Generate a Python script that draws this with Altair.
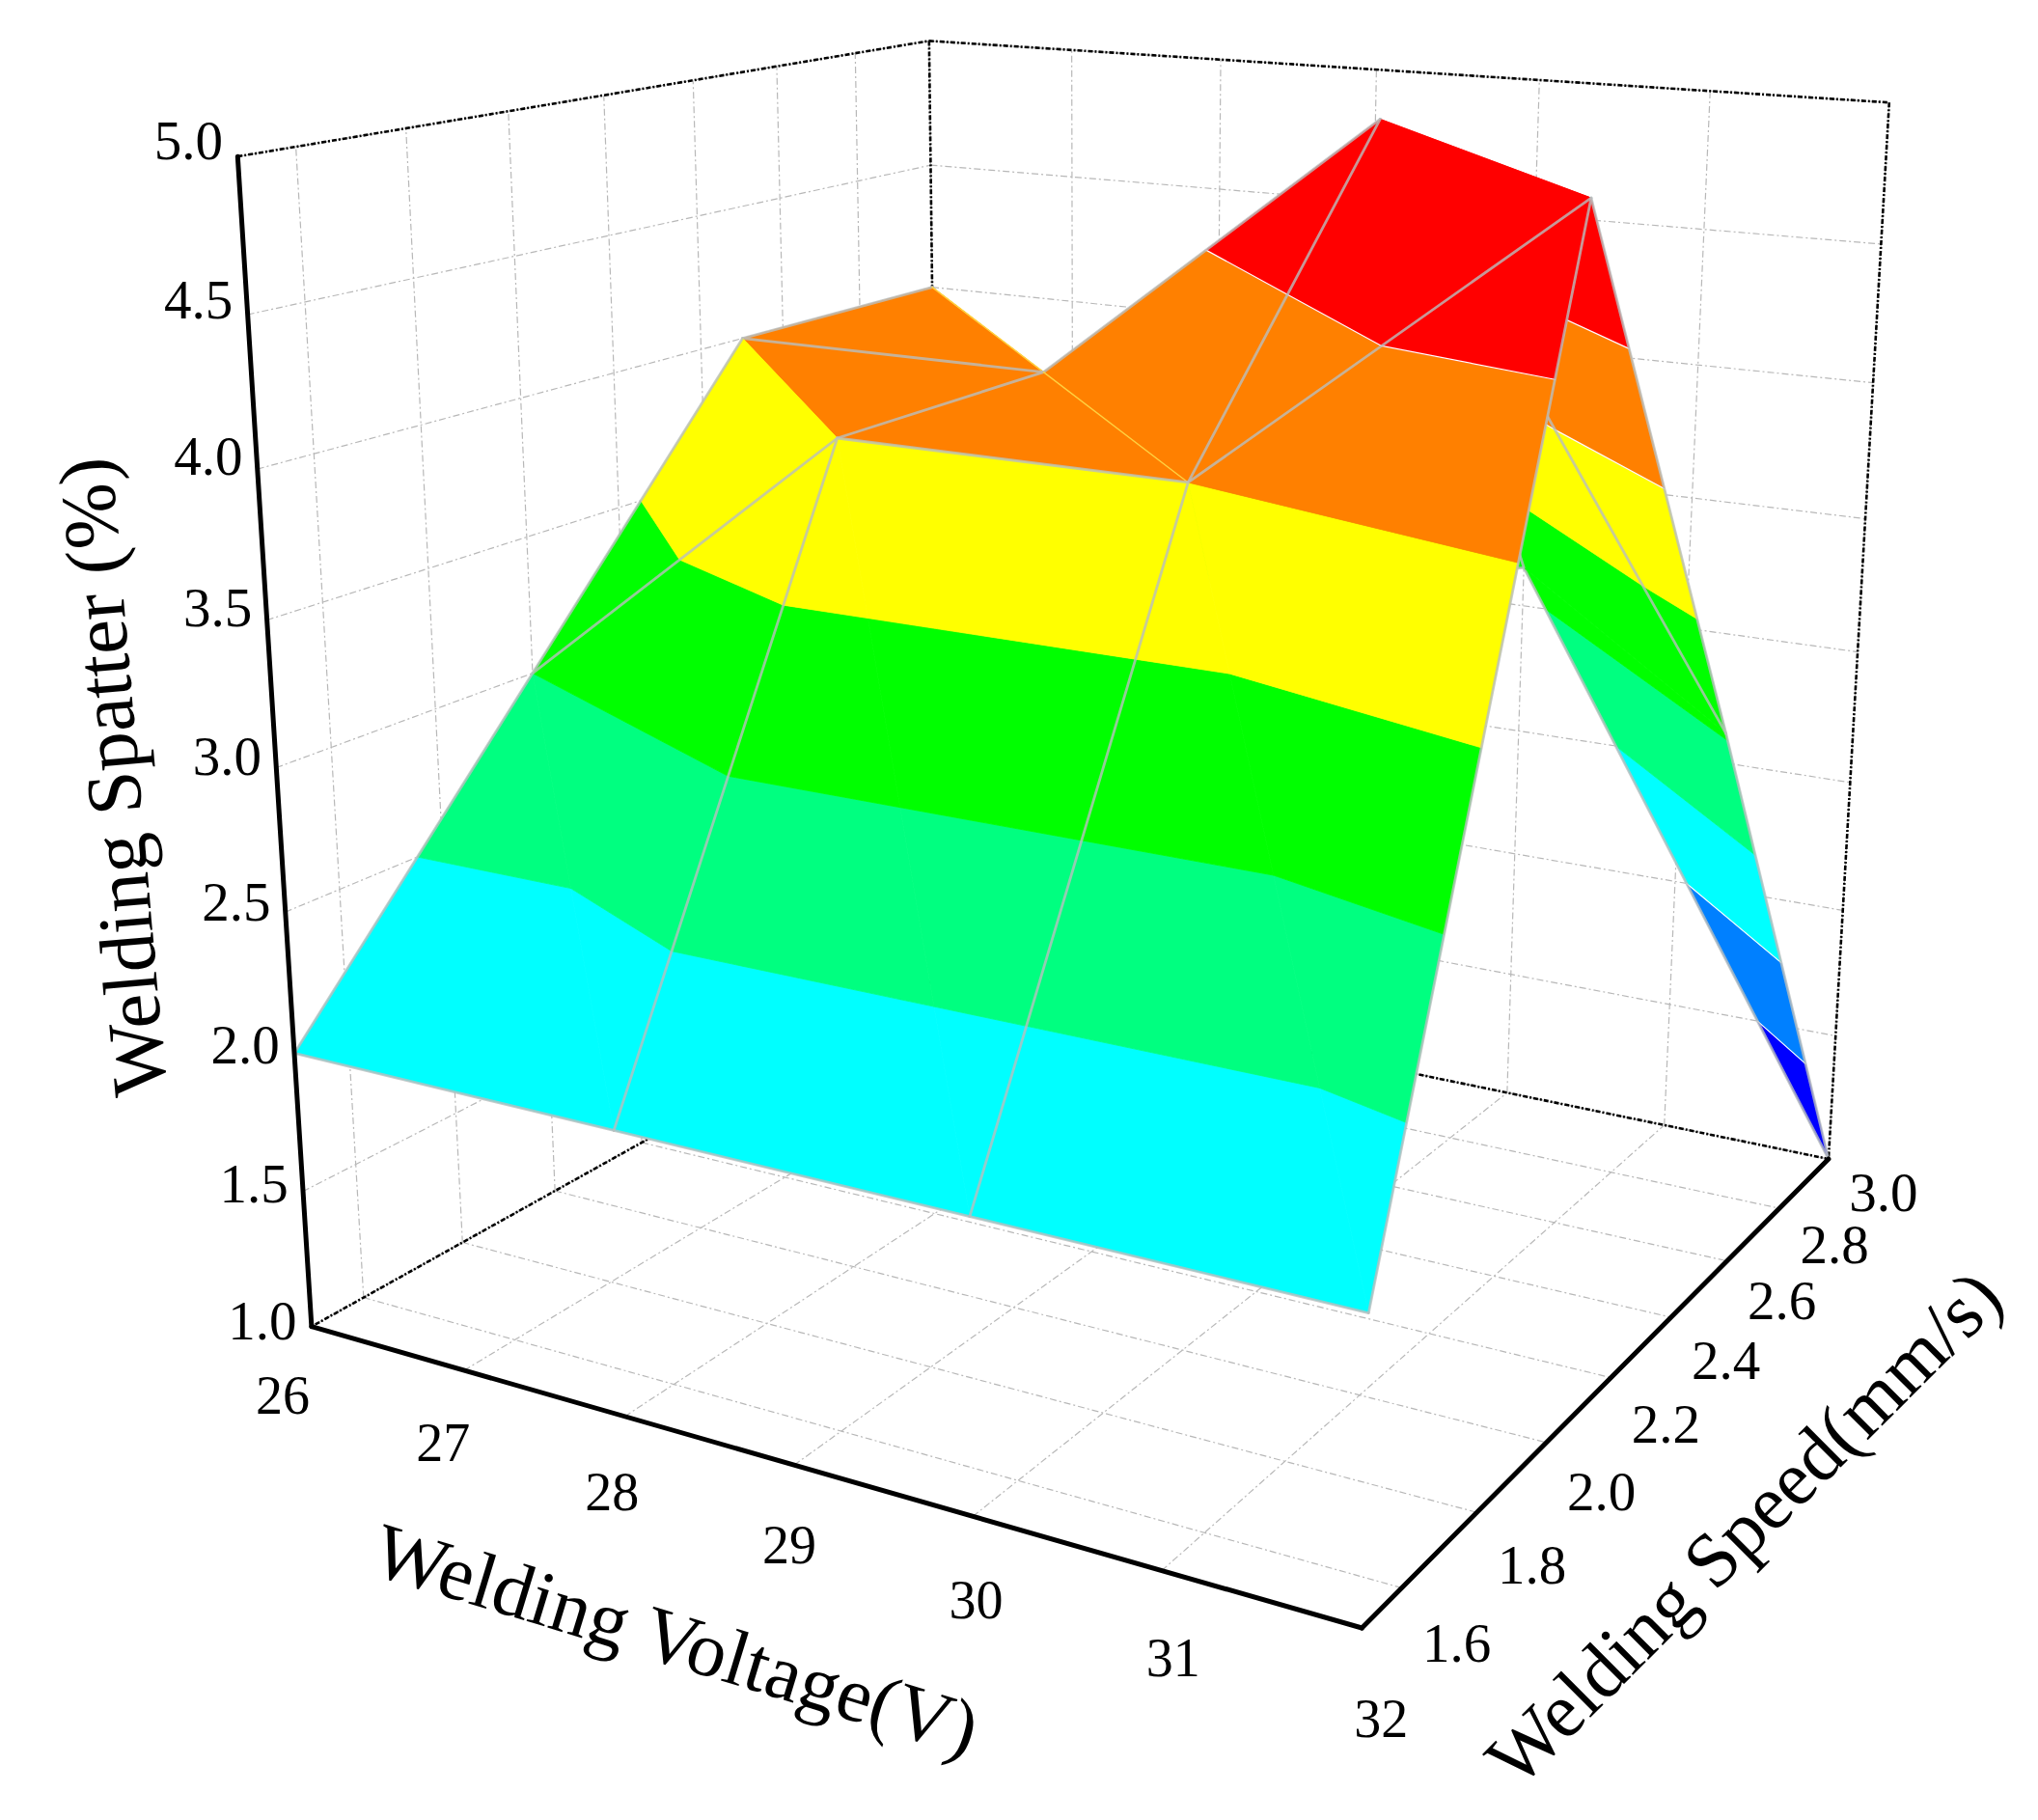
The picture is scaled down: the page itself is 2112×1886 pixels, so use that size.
import altair as alt
import numpy as np
import pandas as pd

# --- data -----------------------------------------------------------------
voltage = [26, 28, 30, 32]
speed = [1.5, 2.0, 2.5, 3.0]
spatter = [
    [2.0, 2.0, 2.0, 2.0],
    [3.0, 4.0, 4.0, 5.0],
    [4.0, 4.0, 5.0, 3.03],
    [4.0, 2.9, 3.15, 1.0],
]
levels = [1.0, 1.5, 2.0, 2.5, 3.0, 3.5, 4.0, 4.5, 5.0]
band_colors = ["#0000ff", "#0080ff", "#00ffff", "#00ff80", "#00ff00", "#ffff00", "#ff8000", "#ff0000"]
white_levels = [1.5, 2.0, 4.0, 4.5]
v_ticks = [26, 27, 28, 29, 30, 31, 32]
s_ticks = [1.6, 1.8, 2.0, 2.2, 2.4, 2.6, 2.8, 3.0]
z_ticks = [1.0, 1.5, 2.0, 2.5, 3.0, 3.5, 4.0, 4.5, 5.0]

# --- camera calibrated on the seven visible corners of the box --------------
box_xyz = [(26, 1.5, 1), (32, 1.5, 1), (32, 3, 1), (32, 3, 5), (26, 3, 5), (26, 1.5, 5), (26, 3, 1)]
box_px = [(323, 1376), (1411, 1686), (1895, 1202), (1958, 106), (962.5, 43), (246.5, 161.6), (975, 1010)]


def norm(p):
    return ((p[0] - 26) / 6, (p[1] - 1.5) / 1.5, (p[2] - 1) / 4)


rows, rhs = [], []
for p, (u, w) in zip(box_xyz, box_px):
    a, b, c = norm(p)
    rows.append([a, b, c, 1, 0, 0, 0, 0, -u * a, -u * b, -u * c])
    rhs.append(u)
    rows.append([0, 0, 0, 0, a, b, c, 1, -w * a, -w * b, -w * c])
    rhs.append(w)
cam = np.linalg.lstsq(np.array(rows, float), np.array(rhs, float), rcond=None)[0]
P = np.append(cam, 1.0).reshape(3, 4)


def project(p):
    q = P @ np.array([*norm(p), 1.0])
    return q[0] / q[2], q[1] / q[2]


# --- helpers ----------------------------------------------------------------
def clip(poly, lo, hi):
    def cut(pts, keep, level):
        out = []
        for k in range(len(pts)):
            a, b = pts[k], pts[(k + 1) % len(pts)]
            ka, kb = keep(a[2]), keep(b[2])
            if ka:
                out.append(a)
            if ka != kb:
                t = (level - a[2]) / (b[2] - a[2])
                out.append(tuple(a[m] + t * (b[m] - a[m]) for m in range(3)))
        return out

    res = cut(poly, lambda z: z >= lo, lo)
    if res:
        res = cut(res, lambda z: z <= hi, hi)
    return res


surface_rows = []
path_id = [0]


def emit(points, fill, stroke, width):
    pid = path_id[0]
    path_id[0] += 1
    for k, p in enumerate(points):
        u, w = project(p)
        surface_rows.append(dict(x=u, y=w, ord=k, pid=pid, fill=fill, stroke=stroke, sw=width))


def triangle(tri):
    zs = [p[2] for p in tri]
    for b, col in enumerate(band_colors):
        lo, hi = levels[b], levels[b + 1]
        if min(zs) >= hi or max(zs) < lo or (max(zs) == lo and min(zs) < lo):
            continue
        poly = clip(tri, lo, hi)
        if len(poly) >= 3:
            emit(poly + [poly[0]], col, col, 0.8)
    for lev in white_levels:
        pts = []
        for k in range(3):
            a, b = tri[k], tri[(k + 1) % 3]
            if (a[2] - lev) * (b[2] - lev) < 0:
                t = (lev - a[2]) / (b[2] - a[2])
                pts.append(tuple(a[m] + t * (b[m] - a[m]) for m in range(3)))
        if len(pts) == 2:
            emit(pts, "transparent", "#ffffff", 1.2)


def vertex(i, j):
    return (voltage[i], speed[j], spatter[j][i])


GRID = "rgba(185,190,190,0.8)"
EDGE = 2.8
for j in range(len(speed) - 2, -1, -1):
    for i in range(len(voltage) - 1):
        triangle([vertex(i + 1, j), vertex(i + 1, j + 1), vertex(i, j + 1)])
        emit([vertex(i, j + 1), vertex(i + 1, j + 1)], "transparent", GRID, EDGE)
        triangle([vertex(i, j), vertex(i + 1, j), vertex(i, j + 1)])
        emit([vertex(i, j), vertex(i, j + 1)], "transparent", GRID, EDGE)
        if spatter[j][i + 1] == 4.0 and spatter[j + 1][i] == 4.0 and spatter[j][i] != 3.0:
            emit([vertex(i + 1, j), vertex(i, j + 1)], "transparent", "#ffd040", 1.4)
        if i == len(voltage) - 2:
            emit([vertex(i + 1, j), vertex(i + 1, j + 1)], "transparent", GRID, EDGE)
        if j == 0:
            emit([vertex(i, j), vertex(i + 1, j)], "transparent", GRID, EDGE)
surface = pd.DataFrame(surface_rows)


def segments(pairs):
    out = []
    for n, (a, b) in enumerate(pairs):
        for k, p in enumerate((a, b)):
            u, w = project(p)
            out.append(dict(x=u, y=w, ord=k, pid=n))
    return pd.DataFrame(out)


grid_pairs = []
for s in s_ticks:
    grid_pairs.append(((26, s, 1), (26, s, 5)))
    grid_pairs.append(((26, s, 1), (32, s, 1)))
for v in v_ticks:
    grid_pairs.append(((v, 3, 1), (v, 3, 5)))
    grid_pairs.append(((v, 1.5, 1), (v, 3, 1)))
for z in z_ticks:
    grid_pairs.append(((26, 1.5, z), (26, 3, z)))
    grid_pairs.append(((26, 3, z), (32, 3, z)))
grid_df = segments(grid_pairs)

dash_df = segments([
    ((26, 1.5, 5), (26, 3, 5)), ((26, 3, 5), (32, 3, 5)), ((32, 3, 5), (32, 3, 1)),
    ((26, 3, 5), (26, 3, 1)), ((26, 3, 1), (26, 1.5, 1)), ((26, 3, 1), (32, 3, 1)),
])
axis_df = segments([((26, 1.5, 1), (32, 1.5, 1)), ((32, 1.5, 1), (32, 3, 1)), ((26, 1.5, 1), (26, 1.5, 5))])

# --- text -------------------------------------------------------------------
labels = []
for z in z_ticks:
    u, w = project((26, 1.5, z))
    labels.append(dict(x=u - 51, y=w - 4 - 2.5 * (z - 1), text=f"{z:.1f}", size=57, angle=0))
for n, v in enumerate(v_ticks):
    u, w = project((v, 1.5, 1))
    t = n / (len(v_ticks) - 1)
    labels.append(dict(x=u - 30 + 50 * t, y=w + 73 + 23 * t, text=str(v), size=56, angle=0))
for n, s in enumerate(s_ticks):
    u, w = project((32, s, 1))
    t = n / (len(s_ticks) - 1)
    labels.append(dict(x=u + 57, y=w + 60 - 23 * t, text=f"{s:.1f}", size=57, angle=0))
labels.append(dict(x=120, y=805, text="Welding Spatter (%)", size=81, angle=265))
labels.append(dict(x=700, y=1702, text="Welding Voltage(V)", size=81, angle=17))
labels.append(dict(x=1809, y=1585, text="Welding Speed(mm/s)", size=80, angle=315))
label_df = pd.DataFrame(labels)

# --- chart ------------------------------------------------------------------
X = alt.X("x:Q", scale=alt.Scale(domain=[8, 2104], nice=False, zero=False), axis=None)
Y = alt.Y("y:Q", scale=alt.Scale(domain=[1878, 8], nice=False, zero=False), axis=None)
ORD = alt.Order("ord:Q")

grid = alt.Chart(grid_df).mark_line(color="#b8b8b8", strokeWidth=1.2, strokeDash=[7, 3, 2, 3]).encode(
    x=X, y=Y, order=ORD, detail="pid:N")
dashed = alt.Chart(dash_df).mark_line(color="#000000", strokeWidth=2.6, strokeDash=[5, 2, 2, 2]).encode(
    x=X, y=Y, order=ORD, detail="pid:N")
surf = alt.Chart(surface).mark_line(strokeJoin="round", strokeCap="round").encode(
    x=X, y=Y, order=ORD, detail="pid:N",
    fill=alt.Fill("fill:N", scale=None),
    stroke=alt.Stroke("stroke:N", scale=None),
    strokeWidth=alt.StrokeWidth("sw:Q", scale=None),
)
axes = alt.Chart(axis_df).mark_line(color="#000000", strokeWidth=5, strokeCap="round").encode(
    x=X, y=Y, order=ORD, detail="pid:N")
text = alt.Chart(label_df).mark_text(font="Liberation Serif", color="#000000", align="center", baseline="middle").encode(
    x=X, y=Y, text="text:N",
    size=alt.Size("size:Q", scale=None),
    angle=alt.Angle("angle:Q", scale=None),
)

chart = alt.layer(grid, dashed, surf, axes, text).properties(
    width=2096, height=1870, padding=0, autosize=alt.AutoSizeParams(type="none")
).configure_view(stroke=None)

chart.save("out.html", embed_options={"renderer": "svg", "actions": False})
